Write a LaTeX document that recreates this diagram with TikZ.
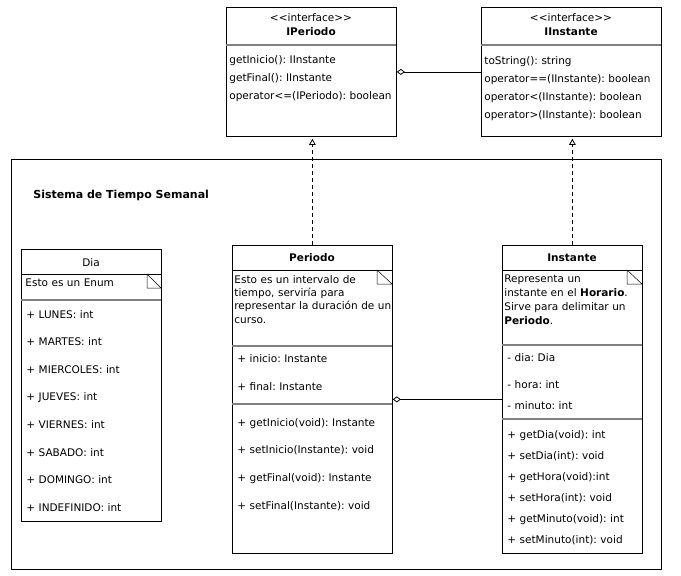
\documentclass[tikz,border=0pt]{standalone}
\usepackage{fontspec}
\setmainfont{DejaVu Sans}
\usepackage{tikz}
\usetikzlibrary{arrows.meta}
\tikzset{realize/.style = {-{Triangle[open,length=6pt,width=6.5pt]}, dash pattern=on 4pt off 3pt, shorten >=2pt},
         aggr/.style = {{Diamond[open,length=8pt,width=6pt]}-}}
\frenchspacing

\begin{document}
\begin{tikzpicture}[x=1pt,y=-1pt,line width=0.8pt,
    class box/.style={draw,anchor=north west,inner sep=0pt},
    sep/.style={line width=1.2pt,black!50},
    fold/.style={line width=0.5pt},
    title/.style={anchor=base,inner sep=0pt,align=center,text width=160pt,font=\fontsize{10.5}{14}\selectfont},
    items/.style={anchor=base west,inner sep=0pt,align=left,text width=175pt,font=\fontsize{10.5}{#1}\selectfont}]
  \useasboundingbox (0,0) rectangle (681,576);

  % paquete
  \node[class box, minimum width=650pt, minimum height=410pt] (sistema) at (11,159) {};
  \node[anchor=base west, inner sep=0pt, font=\bfseries\fontsize{11}{12}\selectfont] (sistemaname) at (33,198) {Sistema de Tiempo Semanal};

  % interfaces
  \node[class box, minimum width=170pt, minimum height=129pt] (iperiodo) at (226,7) {};
  \node[title] (iperiodoname) at (311,21) {<{}<interface>{}>\\\textbf{IPeriodo}};
  \draw[sep] (226,45) -- (396,45);
  \node[items=18pt] (iperiodoops) at (229,63) {getInicio(): IInstante\\getFinal(): IInstante\\operator<=(IPeriodo): boolean};

  \node[class box, minimum width=180pt, minimum height=129pt] (iinstante) at (481,7) {};
  \node[title] (iinstantename) at (571,21) {<{}<interface>{}>\\\textbf{IInstante}};
  \draw[sep] (481,45) -- (661,45);
  \node[items=18pt] (iinstanteops) at (484,64) {toString(): string\\operator==(IInstante): boolean\\operator<(IInstante): boolean\\operator>(IInstante): boolean};

  % Dia
  \node[class box, minimum width=140pt, minimum height=272pt] (dia) at (21,249) {};
  \node[title] (dianame) at (91,266) {Dia};
  \draw (21,274) -- (161,274);
  \node[items=14pt] (dianote) at (25,286) {Esto es un Enum};
  \draw[fold] (147,274) -- (147,288) -- (161,288) -- cycle;
  \draw[sep] (21,300) -- (161,300);
  \node[items=27.6pt] (diavalues) at (26,318) {+ LUNES: int\\+ MARTES: int\\+ MIERCOLES: int\\+ JUEVES: int\\+ VIERNES: int\\+ SABADO: int\\+ DOMINGO: int\\+ INDEFINIDO: int};

  % Periodo
  \node[class box, minimum width=160pt, minimum height=308pt] (periodo) at (232,245) {};
  \node[title] (periodoname) at (312,261) {\textbf{Periodo}};
  \draw (232,270) -- (392,270);
  \node[items=13.4pt] (periodonote) at (234,283) {Esto es un intervalo de\\tiempo, serviría para\\representar la duración de un\\curso.};
  \draw[fold] (377,270) -- (377,284) -- (392,284) -- cycle;
  \draw[sep] (232,346) -- (392,346);
  \node[items=28pt] (periodoattrs) at (237,362) {+ inicio: Instante\\+ final: Instante};
  \draw[sep] (232,404) -- (392,404);
  \node[items=27.7pt] (periodoops) at (237,426) {+ getInicio(void): Instante\\+ setInicio(Instante): void\\+ getFinal(void): Instante\\+ setFinal(Instante): void};

  % Instante
  \node[class box, minimum width=140pt, minimum height=308pt] (instante) at (502,245) {};
  \node[title] (instantename) at (572,261) {\textbf{Instante}};
  \draw (502,270) -- (642,270);
  \node[items=14pt] (instantenote) at (504,282) {Representa un\\instante en el \textbf{Horario}.\\Sirve para delimitar un\\\textbf{Periodo}.};
  \draw[fold] (627,270) -- (627,284) -- (642,284) -- cycle;
  \draw[sep] (502,345) -- (642,345);
  \node[items=21pt] (instanteattrs) at (507,361) {- dia: Dia\\[6pt]- hora: int\\- minuto: int};
  \draw[sep] (502,419) -- (642,419);
  \node[items=21pt] (instanteops) at (507,438) {+ getDia(void): int\\+ setDia(int): void\\+ getHora(void):int\\+ setHora(int): void\\+ getMinuto(void): int\\+ setMinuto(int): void};

  \draw[aggr] (iperiodo.east) -- (iinstante.west);
  \draw[aggr] (periodo.east) -- (instante.west);
  \draw[realize] (periodo.north) -- (periodo.north |- iperiodo.south);
  \draw[realize] (instante.north) -- (instante.north |- iinstante.south);
\end{tikzpicture}
\end{document}
